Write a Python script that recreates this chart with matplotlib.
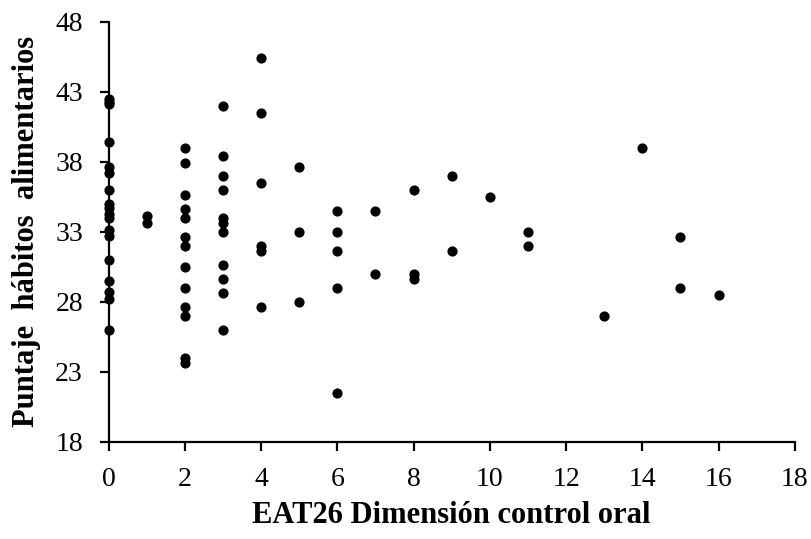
import matplotlib.pyplot as plt

# datos: control oral (EAT26) vs puntaje habitos alimentarios
# cada bloque es una columna de x con sus puntajes
col_0 = [42.5, 42.3, 42.1, 39.4, 37.6, 37.2, 36.0, 35.0, 34.7, 34.3, 34.0,
         33.1, 32.7, 31.0, 29.5, 28.7, 28.2, 26.0]
col_1 = [34.1, 33.6]
col_2 = [39.0, 37.9, 35.6, 34.6, 34.0, 32.6, 32.0, 30.5, 29.0, 27.6, 27.0,
         24.0, 23.6]
col_3 = [42.0, 38.4, 37.0, 36.0, 34.0, 33.6, 33.0, 30.6, 29.6, 28.6, 26.0]
col_4 = [45.4, 41.5, 36.5, 32.0, 31.6, 27.6]
col_5 = [37.6, 33.0, 28.0]
col_6 = [34.5, 33.0, 31.6, 29.0, 21.5]
col_7 = [34.5, 30.0]
col_8 = [36.0, 30.0, 29.6]
col_9 = [37.0, 31.6]
col_10 = [35.5]
col_11 = [33.0, 32.0]
col_13 = [27.0]
col_14 = [39.0]
col_15 = [32.6, 29.0]
col_16 = [28.5]

columnas = {0: col_0, 1: col_1, 2: col_2, 3: col_3, 4: col_4, 5: col_5,
            6: col_6, 7: col_7, 8: col_8, 9: col_9, 10: col_10, 11: col_11,
            13: col_13, 14: col_14, 15: col_15, 16: col_16}

control_oral = []
puntaje = []
for xv, ys in columnas.items():
    control_oral += [xv] * len(ys)
    puntaje += ys

x_ticks = list(range(0, 19, 2))
y_ticks = list(range(18, 49, 5))

plt.rcParams['font.family'] = ['Liberation Serif', 'DejaVu Serif']

fig = plt.figure(figsize=(8.11, 5.39), dpi=100)
ax = fig.add_axes([0.134, 0.1805, 0.846, 0.779])

ax.scatter(control_oral, puntaje, s=40, color='black', zorder=3, clip_on=False)

ax.set_xlim(0, 18)
ax.set_ylim(18, 48)
ax.set_xticks(x_ticks)
ax.set_yticks(y_ticks)
ax.tick_params(axis='both', labelsize=20, length=6.5, width=1.6,
               direction='out')
ax.tick_params(axis='x', pad=12)
ax.tick_params(axis='y', pad=12)

for s in ['top', 'right']:
    ax.spines[s].set_visible(False)
for s in ['left', 'bottom']:
    ax.spines[s].set_linewidth(1.6)

ax.set_xlabel("EAT26 Dimensión control oral", fontsize=22, fontweight='bold',
              labelpad=6)
ax.set_ylabel("Puntaje  hábitos  alimentarios", fontsize=22, fontweight='bold',
              labelpad=10)

fig.savefig("out.png", dpi=100)
